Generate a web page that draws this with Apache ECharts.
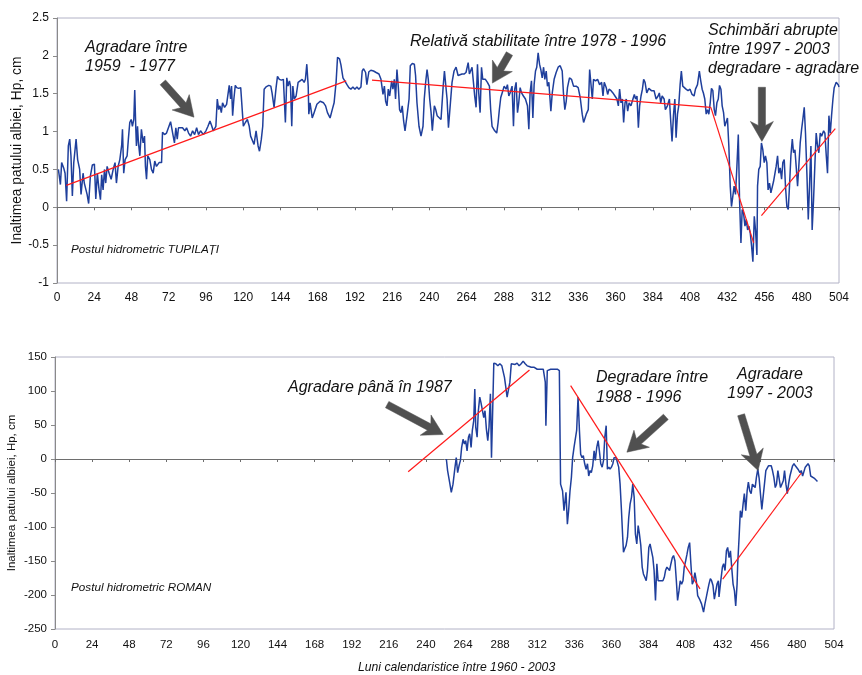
<!DOCTYPE html>
<html>
<head>
<meta charset="utf-8">
<script src="https://cdn.jsdelivr.net/npm/echarts@6/dist/echarts.min.js"></script>
<style>
  html, body { margin: 0; padding: 0; background: #fff; }
  #chart { width: 862px; height: 675px; }
</style>
</head>
<body>
<div id="chart"></div>
<script>
// Months counted from January 1960; channel-bed height Hp at two gauging stations.
const monthTicks = [0, 24, 48, 72, 96, 120, 144, 168, 192, 216, 240, 264, 288, 312, 336, 360, 384, 408, 432, 456, 480, 504];

// TUPILAȚI station, [month, Hp]
const tupilatiHp = [
  [0.9,0.50],[2.2,0.30],[3,0.59],[4.3,0.52],[5.2,0.45],[6.2,0.08],[7.3,0.81],[8.2,0.90],[9,0.68],[9.9,0.15],
  [10.8,0.59],[12.3,0.90],[13.3,0.63],[14.6,0.50],[15.5,0.17],[16.8,0.45],[17.6,0.32],[18.5,0.34],[19.4,0.17],[20.4,0.05],
  [21.5,0.41],[22.8,0.56],[24.1,0.57],[25,0.11],[26,0.45],[27.1,0.23],[28,0.10],[28.8,0.43],[29.7,0.23],[30.6,0.50],
  [31.4,0.32],[32.3,0.54],[33.6,0.45],[34.9,0.37],[36.2,0.50],[37.4,0.59],[38.3,0.32],[39.4,0.54],[40.5,0.63],[41.7,0.82],
  [42.2,1.03],[43,0.45],[43.9,0.63],[45.2,0.68],[46,0.90],[46.9,1.12],[47.8,1.16],[48.6,1.07],[49.5,1.16],[50.1,1.55],
  [50.8,1.03],[51.2,0.81],[51.9,1.07],[52.5,0.85],[53.4,0.68],[54.4,1.03],[55.5,0.85],[56.4,0.94],[57,0.54],[57.7,0.37],
  [58.5,0.68],[59.8,0.63],[60.9,0.50],[62,0.45],[63,0.61],[64.1,0.54],[65.8,0.59],[67.4,0.59],[68,0.99],[69.3,0.96],
  [70.6,0.98],[73.2,1.13],[74,1.12],[74.9,0.94],[75.7,0.85],[76.6,1.05],[77.5,0.90],[78.3,1.05],[79.2,1.03],[80.9,1.05],
  [82.4,1.01],[83.5,1.05],[84.8,0.98],[86.1,0.94],[87.4,1.01],[88.7,0.96],[90,1.05],[91.2,0.96],[92.5,1.01],[94.3,0.96],
  [96,1.01],[97.3,1.07],[98.6,1.14],[99.8,1.07],[100.7,1.01],[102.4,1.07],[103.3,1.43],[104.2,1.29],[105,1.34],[105.9,1.25],
  [106.7,1.38],[108,1.32],[109.3,1.36],[110.2,1.38],[111,1.61],[111.9,1.43],[112.5,1.60],[113.2,1.21],[114,1.43],[114.9,1.61],
  [115.8,1.58],[117.1,1.57],[118.4,1.58],[119.2,1.56],[120.1,1.07],[121.4,1.12],[122.7,1.16],[123.9,1.07],[124.8,0.94],[127,0.83],
  [128.3,1.01],[129.6,0.81],[130.5,0.74],[131.7,0.90],[132.6,1.07],[133.5,1.56],[134.7,1.59],[136.5,1.61],[137.8,1.60],[138.6,1.51],
  [139.9,1.32],[141.2,1.58],[142.1,1.73],[143.3,1.69],[144.6,1.68],[145.9,1.69],[147.2,1.12],[148.1,1.71],[148.9,1.60],[149.8,1.67],
  [150.5,1.60],[151.3,1.07],[152,1.60],[152.9,1.43],[154.1,1.47],[155.4,1.65],[156.7,1.67],[158,1.69],[159.3,1.65],[160.1,1.69],
  [161,1.89],[161.9,1.60],[162.3,1.23],[163.1,1.38],[164.5,1.18],[165.7,1.25],[167.5,1.36],[169.6,1.40],[171.8,1.38],[173.1,1.34],
  [174.3,1.25],[176,1.18],[177.4,1.29],[178.6,1.38],[179.9,1.66],[180.8,1.98],[182.1,1.96],[183,1.88],[184.3,1.71],[185.5,1.69],
  [186.9,1.62],[188.1,1.58],[189.4,1.56],[190.7,1.59],[192,1.56],[193.3,1.59],[194.5,1.56],[195.9,1.59],[196.7,1.80],[197.6,1.83],
  [198.9,1.78],[199.7,1.62],[201,1.79],[202.3,1.81],[204,1.80],[205.7,1.78],[207.5,1.76],[208.8,1.69],[210.1,1.49],[211,1.60],
  [211.8,1.40],[212.7,1.34],[213.5,1.56],[214.4,1.47],[215.7,1.67],[216.5,1.56],[217.4,1.69],[218.2,1.43],[219.1,1.82],[220,1.58],
  [220.8,1.29],[221.7,1.25],[222.5,1.34],[223.4,1.14],[224.3,1.01],[225.6,1.21],[226.9,1.43],[227.7,1.87],[229,1.90],[230.3,1.89],
  [231.1,1.74],[232,1.38],[233.3,1.07],[234.6,0.94],[235.9,1.07],[236.7,1.43],[237.6,1.65],[238.5,1.82],[239.3,1.69],[240.2,1.43],
  [241.1,1.25],[241.9,1.01],[243.2,1.34],[244.1,1.29],[245,1.21],[246.2,1.23],[247.5,1.16],[248.9,1.60],[249.7,1.80],[250.6,1.78],
  [251.4,1.43],[252.3,1.05],[254.6,1.65],[255.9,1.80],[257.2,1.85],[258.5,1.74],[259.7,1.76],[261,1.76],[262.3,1.76],[263.6,1.78],
  [265,1.91],[265.8,1.76],[266.7,1.74],[267.5,1.85],[268.4,1.65],[269.2,1.47],[270.1,1.32],[271,1.89],[271.8,1.51],[272.7,1.25],
  [273.6,1.85],[274.4,1.69],[275.3,1.67],[276.1,1.69],[277.4,1.65],[278.7,1.60],[279.5,1.29],[280.4,1.07],[281.3,1.09],[282.1,1.01],
  [283.4,0.98],[284.3,1.12],[285.1,1.29],[286,1.45],[286.9,1.51],[288.2,1.60],[289.4,1.56],[290.3,1.62],[291.2,1.47],[292,1.51],
  [293.3,1.60],[294.2,1.07],[295,1.56],[295.9,1.65],[296.8,1.25],[297.6,1.38],[298.5,1.58],[299.4,1.51],[300.6,1.47],[301.9,1.43],
  [303.2,1.34],[304.1,1.03],[304.9,1.51],[305.8,1.67],[306.7,1.18],[307.5,1.62],[308.4,1.80],[309.2,1.85],[310.1,2.04],[311,1.89],
  [311.8,1.82],[312.7,1.71],[313.6,1.85],[314.4,1.69],[315.3,1.80],[316.1,1.60],[317,1.65],[318.3,1.27],[319.2,1.51],[320.4,1.69],
  [321.7,1.78],[323,1.85],[324.3,1.87],[325.6,1.80],[326.4,1.51],[327.3,1.29],[328.2,1.40],[329,1.58],[330.3,1.71],[331.6,1.69],
  [332.9,1.60],[333.8,1.58],[334.6,1.60],[335.9,1.58],[337.2,1.45],[338.5,1.23],[339.4,1.12],[340.2,1.14],[341.1,1.23],[342.4,1.29],
  [343.3,1.82],[344.1,1.82],[345,1.43],[345.8,1.69],[347.1,1.67],[348.4,1.69],[349.7,1.62],[351,1.65],[351.9,1.47],[352.7,1.65],
  [354,1.58],[354.9,1.49],[355.8,1.56],[357.1,1.54],[358.3,1.51],[359.6,1.47],[360.9,1.43],[361.8,1.34],[362.6,1.56],[363.5,1.38],
  [364.4,1.43],[365.2,1.12],[366.1,1.38],[366.9,1.43],[367.8,1.27],[368.7,1.38],[369.9,1.34],[371.2,1.43],[372.1,1.49],[372.9,1.43],
  [373.8,1.47],[374.7,1.05],[375.5,1.34],[376.4,1.47],[377.3,1.56],[378.1,1.69],[379,1.65],[380.1,1.51],[381.4,1.57],[383.1,1.54],
  [384.8,1.54],[386.1,1.43],[387.4,1.47],[388.2,1.51],[389.1,1.38],[390,1.47],[391.3,1.43],[392.1,1.29],[393.4,1.34],[394.7,1.43],
  [395.6,1.12],[396.4,0.87],[397.3,1.21],[398.2,1.43],[399,0.92],[399.9,1.23],[400.7,1.34],[401.6,1.62],[402.4,1.80],[403.3,1.60],
  [404.2,1.58],[405.4,1.56],[406.7,1.54],[408,1.56],[409.3,1.49],[410.6,1.47],[411.5,1.56],[412.8,1.62],[414,1.80],[414.9,1.67],
  [415.8,1.56],[416.6,1.51],[417.5,1.43],[418.4,1.23],[419.2,1.29],[420.1,1.23],[421,1.38],[421.8,1.57],[422.7,1.54],[423.6,1.29],
  [424.4,1.21],[425.3,1.38],[426.2,1.43],[427,1.61],[427.9,1.56],[428.7,1.34],[429.6,1.25],[430.4,1.07],[431.3,1.05],[432.1,1.18],
  [433,0.81],[433.9,0.28],[434.7,0.01],[435.6,0.15],[436.4,0.28],[437.3,0.17],[438.2,0.54],[439.1,0.96],[439.9,0.10],[440.8,-0.47],
  [441.6,-0.03],[442.5,-0.08],[443.4,-0.25],[444.2,-0.16],[445.1,-0.30],[445.9,-0.25],[446.8,-0.34],[447.7,-0.52],[448.5,-0.72],[449.4,-0.12],
  [450.2,-0.30],[451.1,-0.63],[451.5,0.28],[452.3,0.50],[453.2,0.54],[454,0.85],[454.9,0.76],[455.8,0.59],[456.6,0.68],[457.5,0.59],
  [458.3,0.23],[459.2,0.32],[460.1,0.19],[460.9,0.21],[461.8,0.34],[462.7,0.32],[463.5,0.54],[464.4,0.68],[465.2,0.45],[466.1,0.52],
  [467,0.37],[467.8,0.59],[468.7,0.63],[469.5,0.28],[470.4,0.01],[471.3,-0.03],[472.1,0.28],[473,0.68],[473.9,0.90],[474.7,0.72],
  [475.6,0.76],[476.4,0.54],[477.3,0.28],[478.1,0.54],[479,0.85],[479.9,1.03],[480.7,1.16],[481.6,1.32],[482.4,0.98],[483.3,0.45],
  [484.2,-0.16],[485,0.28],[485.9,0.81],[486.7,-0.30],[487.6,0.10],[488.5,0.59],[489.3,0.98],[490.2,0.81],[491,0.72],[491.9,0.98],
  [492.8,0.94],[494.1,1.01],[494.9,0.98],[495.8,0.68],[496.6,0.45],[497.5,1.21],[498.4,0.98],[499.2,1.21],[500.1,1.43],[500.9,1.58],
  [502.2,1.65],[503.5,1.62],[504,1.59]
];

// ROMAN station, [month, Hp in cm]
const romanHp = [
  [253.2,0],[254,-17],[255.3,-34],[256.4,-49],[257.5,-37],[258.8,-12],[259.6,2],[260.5,-20],[261.4,-10],[262.3,-2],
  [263.1,17],[264,29],[264.9,22],[265.7,27],[266.6,12],[267.5,32],[268.3,37],[269.2,17],[270,42],[270.9,56],
  [271.6,103],[272.2,47],[273.1,32],[273.9,71],[274.8,91],[275.6,83],[276.5,81],[277.4,61],[278.2,71],[279.1,44],
  [280,27],[280.8,47],[281.7,96],[282.4,2],[283,56],[283.9,141],[285.2,140],[286.5,137],[287.8,140],[289.1,137],
  [289.9,136],[290.8,120],[291.7,105],[292.5,91],[293.4,93],[294.3,113],[295.2,140],[296.4,141],[297.7,139],[299,141],
  [300.3,137],[301.6,140],[302.9,144],[304.2,140],[305.5,137],[306.8,136],[308.1,135],[309.8,135],[312,132],[314.1,132],
  [315.9,132],[317.2,113],[317.6,49],[318.5,130],[320.7,132],[322.8,132],[325,132],[326.3,130],[327.1,-37],[328.4,-47],
  [329.3,-76],[329.9,-78],[330.6,-49],[331.5,-96],[332.3,-76],[333.2,-47],[334.1,-27],[334.9,2],[335.8,17],[336.7,17],
  [337.5,42],[338.4,91],[339.3,42],[340.1,7],[341,2],[341.8,5],[342.7,-7],[343.6,-15],[344.5,-7],[345.3,-25],
  [346.2,-17],[347,-20],[347.9,-10],[348.8,12],[349.6,-2],[350.5,17],[351.4,27],[352.2,12],[353.1,-7],[354,-12],
  [354.9,-2],[355.7,32],[356.6,49],[357.4,-15],[358.3,-12],[359.1,-15],[360,-12],[360.9,-7],[361.7,2],[363,2],
  [363.9,0],[364.7,-12],[365.6,-37],[366.5,-76],[367.3,-115],[367.8,-137],[368.6,-132],[369.5,-127],[370.4,-115],[371.2,-86],
  [372.1,-66],[373,-56],[373.8,-37],[374.7,-56],[375.5,-110],[376.4,-125],[377.3,-98],[378.1,-110],[379,-127],[379.9,-159],
  [380.7,-169],[381.6,-174],[382.5,-179],[383.3,-164],[384.2,-130],[385,-125],[385.9,-135],[386.8,-145],[387.6,-164],[388.5,-208],
  [389.4,-154],[390.2,-179],[391.1,-179],[392,-179],[393.3,-179],[394.2,-174],[395,-164],[395.9,-159],[396.8,-157],[397.6,-164],
  [398.5,-154],[399.4,-145],[400.2,-142],[401.1,-150],[402,-179],[402.8,-208],[403.7,-194],[404.5,-179],[405.4,-184],[406.3,-179],
  [407.1,-159],[408,-150],[408.9,-140],[409.7,-130],[410.6,-123],[411.4,-154],[412.3,-184],[413.2,-179],[414,-167],[414.9,-179],
  [415.8,-201],[417,-206],[418.3,-213],[419.6,-225],[420.5,-213],[421.4,-203],[422.2,-194],[423.1,-184],[424,-176],[424.8,-179],
  [425.7,-186],[426.6,-206],[427.4,-206],[428.3,-184],[429.2,-179],[429.6,-203],[430.5,-184],[431.8,-159],[432.6,-154],[433.5,-164],
  [434.4,-135],[435.2,-130],[436.1,-145],[437,-135],[437.8,-159],[438.7,-184],[439.6,-194],[440.4,-216],[441.3,-184],[441.7,-154],
  [442.6,-115],[443.4,-76],[444.3,-86],[445.2,-66],[446,-51],[446.9,-76],[447.8,-47],[448.6,-34],[449.5,-47],[450.4,-51],
  [451.2,-37],[452.1,-39],[453,-42],[453.8,-27],[454.7,-15],[455.6,-29],[456.4,-51],[457.3,-74],[458.2,-76],[459,-37],
  [459.9,-17],[460.8,-15],[461.6,-10],[462.5,-12],[463.4,-10],[464.2,-17],[465.1,-27],[466,-42],[466.8,-37],[467.7,-17],
  [468.6,-17],[469.4,-42],[470.3,-44],[471.2,-32],[472,-17],[472.9,-37],[473.8,-51],[474.6,-37],[475.5,-25],[476.4,-17],
  [477.2,-10],[478.1,-7],[479,-10],[479.8,-10],[480.7,-15],[482,-20],[482.8,-17],[483.7,-25],[484.6,-25],[485.4,-12],
  [486.3,-10],[487.2,-7],[488,-10],[488.9,-25],[489.8,-27],[491.1,-28],[492.4,-31],[493.3,-33]
];

// Linear trend segments, [[startMonth, startValue], [endMonth, endValue]]
const tupilatiTrends = [
  [[6, 0.29], [186.4, 1.67]],
  [[203, 1.68], [421.4, 1.32]],
  [[421.4, 1.32], [449, -0.47]],
  [[454, -0.11], [501.6, 1.04]]
];
const romanTrends = [
  [[228.5, -18.7], [307, 131]],
  [[333.6, 108], [417.3, -191]],
  [[432, -176.5], [482.8, -20.6]]
];

// Callout arrows in data units: [tailMonth, tailValue, tipMonth, tipValue]
const tupilatiArrows = [
  [68.2, 1.65, 88.3, 1.19],
  [291.6, 2.03, 280.6, 1.64],
  [454.3, 1.585, 454.3, 0.87]
];
const romanArrows = [
  [214.9, 80, 251.2, 36],
  [395.2, 62, 370, 10],
  [443.9, 65, 454.9, -17]
];

const yTitle = 'Inaltimea patului albiei, Hp, cm';
const xTitle = 'Luni calendaristice între 1960 - 2003';

const FONT = '"Liberation Sans", Arial, Helvetica, sans-serif';
const BLUE = '#1f3f9c';
const RED = '#ff1a1a';
const ARROW = '#505050';

const chart = echarts.init(document.getElementById('chart'), null, { renderer: 'canvas' });

function makeXAxes(gridIndex, fontSize, margin) {
  return [
    {
      gridIndex, type: 'value', min: 0, max: 504, interval: 24, position: 'bottom',
      axisLine: { show: false, onZero: false }, axisTick: { show: false }, splitLine: { show: false },
      axisLabel: { color: '#111', fontSize, fontFamily: FONT, margin }
    },
    {
      gridIndex, type: 'value', min: 0, max: 504, interval: 24, position: 'top',
      axisLine: { show: true, onZero: true, lineStyle: { color: '#6e6e6e', width: 1 } },
      axisTick: { show: true, inside: true, length: 3, lineStyle: { color: '#6e6e6e' } },
      axisLabel: { show: false }, splitLine: { show: false }
    }
  ];
}

function makeYAxis(gridIndex, min, max, interval, fontSize, nameSize, nameGap) {
  return {
    gridIndex, type: 'value', min, max, interval,
    axisLine: { show: true, onZero: false, lineStyle: { color: '#8a8a8a' } },
    axisTick: { show: true, length: 4, lineStyle: { color: '#8a8a8a' } },
    splitLine: { show: false },
    axisLabel: { color: '#111', fontSize, fontFamily: FONT, margin: 8 },
    name: yTitle, nameLocation: 'middle', nameGap, nameMoveOverlap: false,
    nameTextStyle: { color: '#111', fontSize: nameSize, fontFamily: FONT }
  };
}

function trendSeries(segments, xAxisIndex, yAxisIndex) {
  return segments.map(seg => ({
    type: 'line', xAxisIndex, yAxisIndex, data: seg, symbol: 'none',
    lineStyle: { color: RED, width: 1.2 }, z: 4, silent: true
  }));
}

function label(text, x, y, size, align) {
  return {
    type: 'text', silent: true, z: 100,
    style: {
      text, x, y, fill: '#111',
      font: 'italic ' + size + 'px ' + FONT,
      textAlign: align || 'left', align: align || 'left',
      textVerticalAlign: 'middle', verticalAlign: 'middle'
    }
  };
}

const gridCommon = {
  show: true, borderColor: '#b2b2c6', borderWidth: 1, backgroundColor: 'transparent',
  containLabel: false, outerBoundsMode: 'none'
};

const option = {
  animation: false,
  backgroundColor: '#ffffff',
  grid: [
    Object.assign({ left: 57, top: 18, width: 782, height: 265 }, gridCommon),
    Object.assign({ left: 55, top: 357, width: 779, height: 272 }, gridCommon)
  ],
  xAxis: [...makeXAxes(0, 12, 9), ...makeXAxes(1, 11.5, 10)],
  yAxis: [
    makeYAxis(0, -1, 2.5, 0.5, 12, 13.8, 33),
    makeYAxis(1, -250, 150, 50, 11.5, 11.5, 37)
  ],
  series: [
    {
      type: 'line', name: 'TUPILAȚI', xAxisIndex: 0, yAxisIndex: 0, data: tupilatiHp,
      symbol: 'none', lineStyle: { color: BLUE, width: 1.5 }, z: 3
    },
    {
      type: 'line', name: 'ROMAN', xAxisIndex: 2, yAxisIndex: 1, data: romanHp,
      symbol: 'none', lineStyle: { color: BLUE, width: 1.5 }, z: 3
    },
    ...trendSeries(tupilatiTrends, 0, 0),
    ...trendSeries(romanTrends, 2, 1)
  ],
  graphic: [
    label('Agradare între', 85, 48, 16),
    label('1959  - 1977', 85, 67, 16),
    label('Relativă stabilitate între 1978 - 1996', 410, 42, 16),
    label('Schimbări abrupte', 708, 31, 16),
    label('între 1997 - 2003', 708, 50, 16),
    label('degradare - agradare', 708, 69, 16),
    label('Postul hidrometric TUPILAȚI', 71, 250, 11.7),
    label('Agradare până în 1987', 288, 388, 16),
    label('Degradare între', 596, 378, 16),
    label('1988 - 1996', 596, 398, 16),
    label('Agradare', 770, 375, 16, 'center'),
    label('1997 - 2003', 770, 394, 16, 'center'),
    label('Postul hidrometric ROMAN', 71, 588, 11.7),
    label(xTitle, 358, 668, 12.2)
  ]
};

chart.setOption(option);

// Block arrows: shaft plus notched head, placed through the axis scales.
function arrowPoints(p0, p1) {
  const dx = p1[0] - p0[0], dy = p1[1] - p0[1];
  const len = Math.hypot(dx, dy) || 1;
  const ux = dx / len, uy = dy / len, nx = -uy, ny = ux;
  const headL = 20, headW = 11.5, shaft = 3.6, notch = 4;
  const bx = p1[0] - ux * headL, by = p1[1] - uy * headL;
  return [
    [p0[0] + nx * shaft, p0[1] + ny * shaft],
    [bx + nx * shaft + ux * notch, by + ny * shaft + uy * notch],
    [bx + nx * headW, by + ny * headW],
    [p1[0], p1[1]],
    [bx - nx * headW, by - ny * headW],
    [bx - nx * shaft + ux * notch, by - ny * shaft + uy * notch],
    [p0[0] - nx * shaft, p0[1] - ny * shaft]
  ];
}

function arrowElements(list, xAxisIndex, yAxisIndex) {
  return list.map(a => {
    const p0 = chart.convertToPixel({ xAxisIndex, yAxisIndex }, [a[0], a[1]]);
    const p1 = chart.convertToPixel({ xAxisIndex, yAxisIndex }, [a[2], a[3]]);
    return {
      type: 'polygon', silent: true, z: 90,
      shape: { points: arrowPoints(p0, p1) },
      style: { fill: ARROW, stroke: ARROW, lineWidth: 0.5 }
    };
  });
}

chart.setOption({
  graphic: option.graphic.concat(
    arrowElements(tupilatiArrows, 0, 0),
    arrowElements(romanArrows, 2, 1)
  )
});
</script>
</body>
</html>
